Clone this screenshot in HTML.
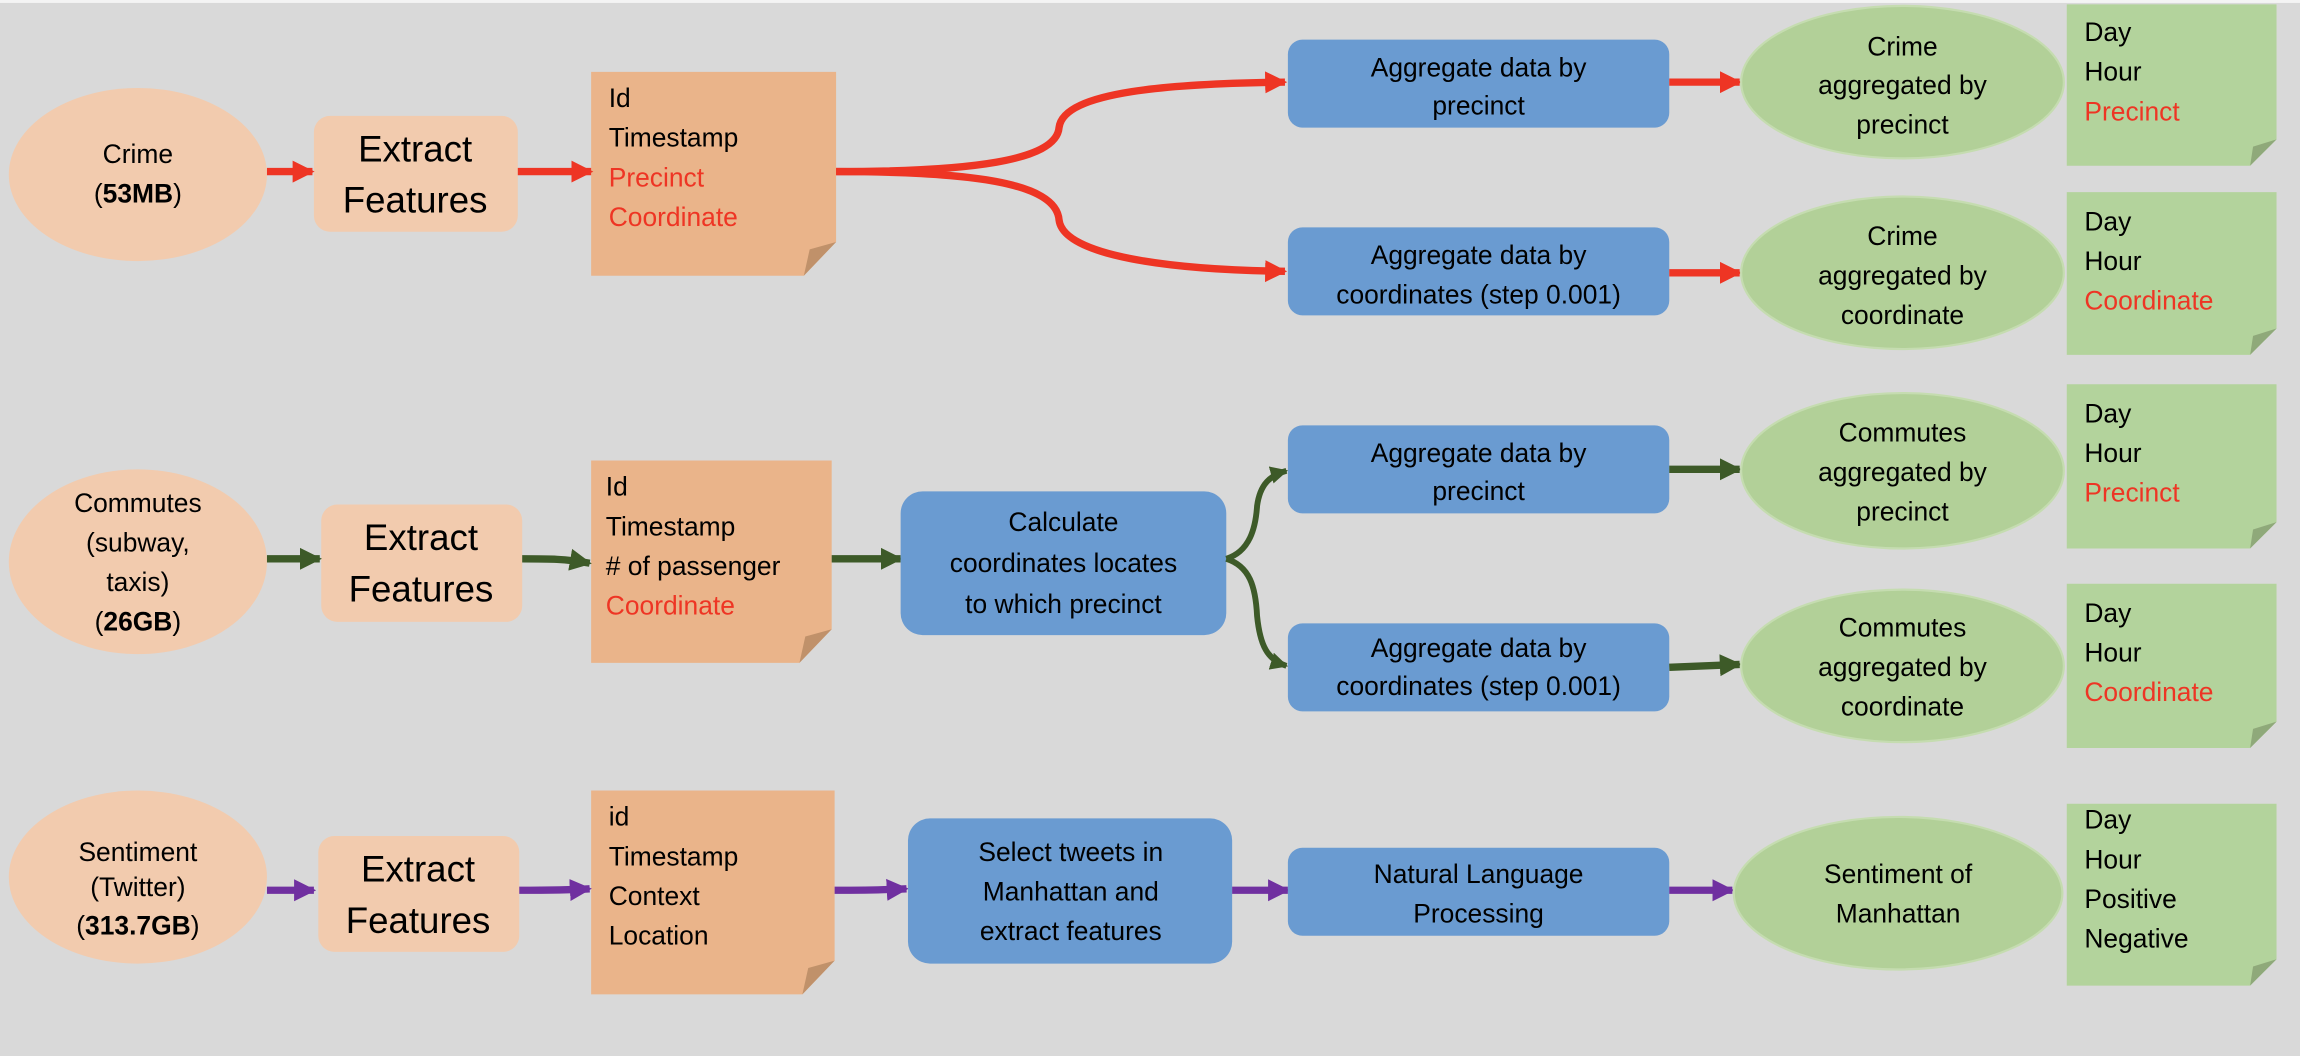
<!DOCTYPE html>
<html><head><meta charset="utf-8"><style>
html,body{margin:0;padding:0;background:#d9d9d9;}
svg{display:block;}
text{font-family:"Liberation Sans",sans-serif;fill:#000;}
</style></head><body>
<svg width="2300" height="1056" viewBox="0 0 1568 720" preserveAspectRatio="none" xmlns="http://www.w3.org/2000/svg">
<rect x="0" y="0" width="1568" height="720" fill="#d9d9d9"/>
<rect x="0" y="0" width="1568" height="2" fill="#f4f4f4"/>
<defs>
<marker id="ar" viewBox="0 0 10 10" refX="9" refY="5" markerWidth="3" markerHeight="3.2" orient="auto" markerUnits="strokeWidth"><path d="M0,0 L10,5 L0,10 Z" fill="#ee3524"/></marker>
<marker id="ag" viewBox="0 0 10 10" refX="9" refY="5" markerWidth="3" markerHeight="3.2" orient="auto" markerUnits="strokeWidth"><path d="M0,0 L10,5 L0,10 Z" fill="#3d5a28"/></marker>
<marker id="ap" viewBox="0 0 10 10" refX="9" refY="5" markerWidth="3" markerHeight="3.2" orient="auto" markerUnits="strokeWidth"><path d="M0,0 L10,5 L0,10 Z" fill="#7030a0"/></marker>
</defs>

<!-- ROW 1 -->
<ellipse cx="94" cy="119" rx="88" ry="59" fill="#f2cbae"/>
<text x="94" y="111" font-size="18" text-anchor="middle">Crime</text>
<text x="94" y="138" font-size="18" text-anchor="middle">(<tspan font-weight="bold">53MB</tspan>)</text>
<rect x="214" y="79" width="139" height="79" rx="11" fill="#f2cbae"/>
<text x="283" y="110" font-size="25" text-anchor="middle">Extract</text>
<text x="283" y="145" font-size="25" text-anchor="middle">Features</text>
<polygon points="403,49 570,49 570,165 548,188 403,188" fill="#eab48a"/>
<polygon points="570,165 548,188 552,170" fill="#c0916a"/>
<text x="415" y="73" font-size="18">Id</text>
<text x="415" y="100" font-size="18">Timestamp</text>
<text x="415" y="127" font-size="18" fill="#ee3524" style="fill:#ee3524">Precinct</text>
<text x="415" y="154" font-size="18" style="fill:#ee3524">Coordinate</text>
<line x1="182" y1="117" x2="213" y2="117" stroke="#ee3524" stroke-width="5" marker-end="url(#ar)"/>
<line x1="353" y1="117" x2="403" y2="117" stroke="#ee3524" stroke-width="5" marker-end="url(#ar)"/>
<path d="M570,117 C660,117 720,110 722,87 C725,62 800,57 876,56" fill="none" stroke="#ee3524" stroke-width="5" marker-end="url(#ar)"/>
<path d="M570,117 C660,117 720,124 722,150 C725,175 800,184 876,185" fill="none" stroke="#ee3524" stroke-width="5" marker-end="url(#ar)"/>
<rect x="878" y="27" width="260" height="60" rx="10" fill="#6a9bd1"/>
<text x="1008" y="52" font-size="18" text-anchor="middle">Aggregate data by</text>
<text x="1008" y="78" font-size="18" text-anchor="middle">precinct</text>
<rect x="878" y="155" width="260" height="60" rx="10" fill="#6a9bd1"/>
<text x="1008" y="180" font-size="18" text-anchor="middle">Aggregate data by</text>
<text x="1008" y="207" font-size="18" text-anchor="middle">coordinates (step 0.001)</text>
<line x1="1138" y1="56" x2="1186" y2="56" stroke="#ee3524" stroke-width="5" marker-end="url(#ar)"/>
<line x1="1138" y1="186" x2="1186" y2="186" stroke="#ee3524" stroke-width="5" marker-end="url(#ar)"/>
<ellipse cx="1297" cy="56" rx="110" ry="52" fill="#b2d098" stroke="#c5dcb0" stroke-width="1.5"/>
<text x="1297" y="38" font-size="18" text-anchor="middle">Crime</text>
<text x="1297" y="64" font-size="18" text-anchor="middle">aggregated by</text>
<text x="1297" y="91" font-size="18" text-anchor="middle">precinct</text>
<ellipse cx="1297" cy="186" rx="110" ry="52" fill="#b2d098" stroke="#c5dcb0" stroke-width="1.5"/>
<text x="1297" y="167" font-size="18" text-anchor="middle">Crime</text>
<text x="1297" y="194" font-size="18" text-anchor="middle">aggregated by</text>
<text x="1297" y="221" font-size="18" text-anchor="middle">coordinate</text>

<!-- notes -->
<g>
<polygon points="1409,3 1552,3 1552,95 1534,113 1409,113" fill="#b3d39c"/>
<polygon points="1552,95 1534,113 1536,100" fill="#8fa97a"/>
<text x="1421" y="28" font-size="18">Day</text>
<text x="1421" y="55" font-size="18">Hour</text>
<text x="1421" y="82" font-size="18" style="fill:#ee3524">Precinct</text>
</g>
<g>
<polygon points="1409,131 1552,131 1552,224 1534,242 1409,242" fill="#b3d39c"/>
<polygon points="1552,224 1534,242 1536,229" fill="#8fa97a"/>
<text x="1421" y="157" font-size="18">Day</text>
<text x="1421" y="184" font-size="18">Hour</text>
<text x="1421" y="211" font-size="18" style="fill:#ee3524">Coordinate</text>
</g>
<g>
<polygon points="1409,262 1552,262 1552,356 1534,374 1409,374" fill="#b3d39c"/>
<polygon points="1552,356 1534,374 1536,361" fill="#8fa97a"/>
<text x="1421" y="288" font-size="18">Day</text>
<text x="1421" y="315" font-size="18">Hour</text>
<text x="1421" y="342" font-size="18" style="fill:#ee3524">Precinct</text>
</g>
<g>
<polygon points="1409,398 1552,398 1552,492 1534,510 1409,510" fill="#b3d39c"/>
<polygon points="1552,492 1534,510 1536,497" fill="#8fa97a"/>
<text x="1421" y="424" font-size="18">Day</text>
<text x="1421" y="451" font-size="18">Hour</text>
<text x="1421" y="478" font-size="18" style="fill:#ee3524">Coordinate</text>
</g>
<g>
<polygon points="1409,548 1552,548 1552,654 1534,672 1409,672" fill="#b3d39c"/>
<polygon points="1552,654 1534,672 1536,659" fill="#8fa97a"/>
<text x="1421" y="565" font-size="18">Day</text>
<text x="1421" y="592" font-size="18">Hour</text>
<text x="1421" y="619" font-size="18">Positive</text>
<text x="1421" y="646" font-size="18">Negative</text>
</g>

<!-- ROW 2 -->
<ellipse cx="94" cy="383" rx="88" ry="63" fill="#f2cbae"/>
<text x="94" y="349" font-size="18" text-anchor="middle">Commutes</text>
<text x="94" y="376" font-size="18" text-anchor="middle">(subway,</text>
<text x="94" y="403" font-size="18" text-anchor="middle">taxis)</text>
<text x="94" y="430" font-size="18" text-anchor="middle">(<tspan font-weight="bold">26GB</tspan>)</text>
<rect x="219" y="344" width="137" height="80" rx="11" fill="#f2cbae"/>
<text x="287" y="375" font-size="25" text-anchor="middle">Extract</text>
<text x="287" y="410" font-size="25" text-anchor="middle">Features</text>
<polygon points="403,314 567,314 567,429 545,452 403,452" fill="#eab48a"/>
<polygon points="567,429 545,452 549,434" fill="#c0916a"/>
<text x="413" y="338" font-size="18">Id</text>
<text x="413" y="365" font-size="18">Timestamp</text>
<text x="413" y="392" font-size="18"># of passenger</text>
<text x="413" y="419" font-size="18" style="fill:#ee3524">Coordinate</text>
<line x1="182" y1="381" x2="218" y2="381" stroke="#3d5a28" stroke-width="5" marker-end="url(#ag)"/>
<path d="M356,381 C375,381 385,381 402,384" fill="none" stroke="#3d5a28" stroke-width="5" marker-end="url(#ag)"/>
<line x1="567" y1="381" x2="614" y2="381" stroke="#3d5a28" stroke-width="5" marker-end="url(#ag)"/>
<rect x="614" y="335" width="222" height="98" rx="15" fill="#6a9bd1"/>
<text x="725" y="362" font-size="18" text-anchor="middle">Calculate</text>
<text x="725" y="390" font-size="18" text-anchor="middle">coordinates locates</text>
<text x="725" y="418" font-size="18" text-anchor="middle">to which precinct</text>
<path d="M836,381 C852,376 856,360 857,345 C859,330 866,324 877,321" fill="none" stroke="#3d5a28" stroke-width="4" marker-end="url(#ag)"/>
<path d="M836,381 C852,386 856,400 857,420 C859,440 864,450 877,454" fill="none" stroke="#3d5a28" stroke-width="4" marker-end="url(#ag)"/>
<rect x="878" y="290" width="260" height="60" rx="10" fill="#6a9bd1"/>
<text x="1008" y="315" font-size="18" text-anchor="middle">Aggregate data by</text>
<text x="1008" y="341" font-size="18" text-anchor="middle">precinct</text>
<rect x="878" y="425" width="260" height="60" rx="10" fill="#6a9bd1"/>
<text x="1008" y="448" font-size="18" text-anchor="middle">Aggregate data by</text>
<text x="1008" y="474" font-size="18" text-anchor="middle">coordinates (step 0.001)</text>
<line x1="1138" y1="320" x2="1186" y2="320" stroke="#3d5a28" stroke-width="5" marker-end="url(#ag)"/>
<line x1="1138" y1="455" x2="1186" y2="453" stroke="#3d5a28" stroke-width="5" marker-end="url(#ag)"/>
<ellipse cx="1297" cy="321" rx="110" ry="53" fill="#b2d098" stroke="#c5dcb0" stroke-width="1.5"/>
<text x="1297" y="301" font-size="18" text-anchor="middle">Commutes</text>
<text x="1297" y="328" font-size="18" text-anchor="middle">aggregated by</text>
<text x="1297" y="355" font-size="18" text-anchor="middle">precinct</text>
<ellipse cx="1297" cy="454" rx="110" ry="52" fill="#b2d098" stroke="#c5dcb0" stroke-width="1.5"/>
<text x="1297" y="434" font-size="18" text-anchor="middle">Commutes</text>
<text x="1297" y="461" font-size="18" text-anchor="middle">aggregated by</text>
<text x="1297" y="488" font-size="18" text-anchor="middle">coordinate</text>

<!-- ROW 3 -->
<ellipse cx="94" cy="598" rx="88" ry="59" fill="#f2cbae"/>
<text x="94" y="587" font-size="18" text-anchor="middle">Sentiment</text>
<text x="94" y="611" font-size="18" text-anchor="middle">(Twitter)</text>
<text x="94" y="637" font-size="18" text-anchor="middle">(<tspan font-weight="bold">313.7GB</tspan>)</text>
<rect x="217" y="570" width="137" height="79" rx="11" fill="#f2cbae"/>
<text x="285" y="601" font-size="25" text-anchor="middle">Extract</text>
<text x="285" y="636" font-size="25" text-anchor="middle">Features</text>
<polygon points="403,539 569,539 569,655 547,678 403,678" fill="#eab48a"/>
<polygon points="569,655 547,678 551,660" fill="#c0916a"/>
<text x="415" y="563" font-size="18">id</text>
<text x="415" y="590" font-size="18">Timestamp</text>
<text x="415" y="617" font-size="18">Context</text>
<text x="415" y="644" font-size="18">Location</text>
<line x1="182" y1="607" x2="214" y2="607" stroke="#7030a0" stroke-width="5" marker-end="url(#ap)"/>
<path d="M354,607 C370,607 385,607 402,606" fill="none" stroke="#7030a0" stroke-width="5" marker-end="url(#ap)"/>
<path d="M569,607 C585,607 600,607 618,606" fill="none" stroke="#7030a0" stroke-width="5" marker-end="url(#ap)"/>
<rect x="619" y="558" width="221" height="99" rx="15" fill="#6a9bd1"/>
<text x="730" y="587" font-size="18" text-anchor="middle">Select tweets in</text>
<text x="730" y="614" font-size="18" text-anchor="middle">Manhattan and</text>
<text x="730" y="641" font-size="18" text-anchor="middle">extract features</text>
<line x1="840" y1="607" x2="878" y2="607" stroke="#7030a0" stroke-width="5" marker-end="url(#ap)"/>
<rect x="878" y="578" width="260" height="60" rx="10" fill="#6a9bd1"/>
<text x="1008" y="602" font-size="18" text-anchor="middle">Natural Language</text>
<text x="1008" y="629" font-size="18" text-anchor="middle">Processing</text>
<line x1="1138" y1="607" x2="1181" y2="607" stroke="#7030a0" stroke-width="5" marker-end="url(#ap)"/>
<ellipse cx="1294" cy="609" rx="112" ry="52" fill="#b2d098" stroke="#c5dcb0" stroke-width="1.5"/>
<text x="1294" y="602" font-size="18" text-anchor="middle">Sentiment of</text>
<text x="1294" y="629" font-size="18" text-anchor="middle">Manhattan</text>
</svg>
</body></html>
